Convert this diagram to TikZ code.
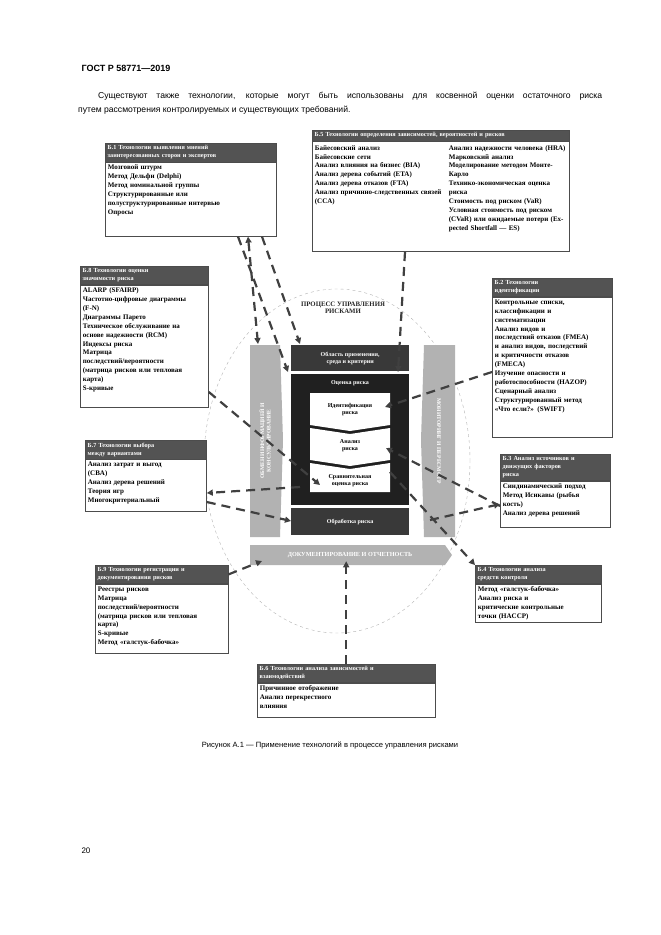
\documentclass[tikz,border=0pt]{standalone}
\usepackage{fontspec}
\setmainfont{Liberation Sans}
\newfontfamily\bxfont{Liberation Serif}
\usetikzlibrary{positioning,arrows.meta}
\begin{document}
\begin{tikzpicture}[x=1pt,y=-1pt]
	\tikzset{hd/.style={draw=gray!60!black, fill=gray!65!black, text=white, inner sep=2.5pt, anchor=north west, align=left, font=\bxfont\bfseries\fontsize{6.2}{8}\selectfont},
		bd/.style={draw=gray!60!black, line width=0.8pt, fill=white, inner sep=2.5pt, align=left, anchor=north west, font=\bxfont\bfseries\fontsize{7}{8.9}\selectfont},
		blk/.style={fill=gray!25!black, draw=none, text=white, font=\bxfont\bfseries\fontsize{6}{7}\selectfont, align=center},
		ln/.style={gray!50!black, line width=2.2pt, dash pattern=on 9pt off 6pt, -{Triangle[length=6pt,width=6pt]}}};
	\useasboundingbox (0,0) rectangle (661,935);

	% page text
	\node[anchor=west, font=\bfseries\fontsize{9}{10}\selectfont] (gost) at (78,68) {ГОСТ Р 58771—2019};
	\node[anchor=north west, text width=524pt, align=justify, inner sep=0pt, font=\fontsize{8.6}{14}\selectfont] (intro) at (78,92)
		{\hspace*{20pt}Существуют также технологии, которые могут быть использованы для косвенной оценки остаточного риска\linebreak путем рассмотрения контролируемых и существующих требований.};
	\node[font=\fontsize{7.6}{9}\selectfont] (cap) at (330,745) {Рисунок А.1 — Применение технологий в процессе управления рисками};
	\node[anchor=west, font=\fontsize{8}{9}\selectfont] (page) at (78,851) {20};

	% process
	\draw[gray!60, dash pattern=on 3pt off 3pt] (337,461) ellipse (133pt and 172pt);
	\node[font=\bxfont\bfseries\fontsize{6.8}{7.5}\selectfont, align=center, gray!30!black] (ttl) at (343,308) {ПРОЦЕСС УПРАВЛЕНИЯ\\РИСКАМИ};
	\fill[gray!60] (250,345) -- (280,345) -- (283,440) -- (280,537) -- (250,537) -- cycle;
	\fill[gray!60] (424,345) -- (455,345) -- (455,537) -- (424,537) -- (421,440) -- cycle;
	\node[rotate=90, white, font=\bxfont\bfseries\fontsize{5.6}{6.5}\selectfont, align=center] (com) at (265,441) {ОБМЕН ИНФОРМАЦИЕЙ И\\КОНСУЛЬТИРОВАНИЕ};
	\node[rotate=-90, white, font=\bxfont\bfseries\fontsize{5.6}{6.5}\selectfont] (mon) at (439,441) {МОНИТОРИНГ И ПЕРЕСМОТР};
	\node[blk, fill=gray!45!black, minimum width=118pt, minimum height=26pt, anchor=north west] (scope) at (291,345) {Область применения,\\среда и критерии};
	\node[blk, minimum width=118pt, minimum height=131pt, anchor=north west] (assess) at (291,374) {};
	\node[blk] (asst) at (350,383) {Оценка риска};
	\fill[white] (310,393) -- (390,393) -- (390,425) -- (350,431) -- (310,425) -- cycle;
	\fill[white] (310,428) -- (350,434) -- (390,428) -- (390,460) -- (350,466) -- (310,460) -- cycle;
	\fill[white] (310,463) -- (350,469) -- (390,463) -- (390,492) -- (310,492) -- cycle;
	\node[font=\bxfont\bfseries\fontsize{6}{7}\selectfont, align=center] (ident) at (350,410) {Идентификация\\риска};
	\node[font=\bxfont\bfseries\fontsize{6}{7}\selectfont, align=center] (anal) at (350,446) {Анализ\\риска};
	\node[font=\bxfont\bfseries\fontsize{6}{7}\selectfont, align=center] (eval) at (350,481) {Сравнительная\\оценка риска};
	\node[blk, fill=gray!45!black, minimum width=118pt, minimum height=27pt, anchor=north west] (treat) at (291,508) {Обработка риска};
	\fill[gray!60] (250,545) -- (445,545) -- (452,555) -- (445,565) -- (250,565) -- cycle;
	\node[white, font=\bxfont\bfseries\fontsize{6.2}{7}\selectfont] (doc) at (350,555) {ДОКУМЕНТИРОВАНИЕ И ОТЧЕТНОСТЬ};

	% technique boxes
	\node[hd, text width=166pt] (b1h) at (105,143) {Б.1 Технологии выявления мнений\\заинтересованных сторон и экспертов};
	\node[bd, text width=166pt, text depth=64pt, below right=0pt and 0pt of b1h.south west] (b1) {Мозговой штурм\\Метод Дельфи (Delphi)\\Метод номинальной группы\\Структурированные или\\полуструктурированные интервью\\Опросы};

	\node[hd, text width=252pt] (b5h) at (312,130) {Б.5 Технологии определения зависимостей, вероятностей и рисков};
	\node[bd, text width=252pt, text depth=99pt, below right=0pt and 0pt of b5h.south west] (b5) {%
		\begin{tabular}[t]{@{}p{128pt}@{\hspace{6pt}}p{118pt}@{}}
		Байесовский анализ\newline Байесовские сети\newline Анализ влияния на бизнес (BIA)\newline Анализ дерева событий (ETA)\newline Анализ дерева отказов (FTA)\newline Анализ причинно-следственных связей (CCA) &
		Анализ надежности человека (HRA)\newline Марковский анализ\newline Моделирование методом Монте-Карло\newline Технико-экономическая оценка риска\newline Стоимость под риском (VaR)\newline Условная стоимость под риском (CVaR) или ожидаемые потери (Expected Shortfall — ES)
		\end{tabular}};

	\node[hd, text width=123pt] (b8h) at (80,266) {Б.8 Технологии оценки\\значимости риска};
	\node[bd, text width=123pt, text depth=112pt, below right=0pt and 0pt of b8h.south west] (b8) {ALARP (SFAIRP)\\Частотно-цифровые диаграммы\\(F-N)\\Диаграммы Парето\\Техническое обслуживание на\\основе надежности (RCM)\\Индексы риска\\Матрица\\последствий/вероятности\\(матрица рисков или тепловая\\карта)\\S-кривые};

	\node[hd, text width=115pt] (b2h) at (492,278) {Б.2 Технологии\\идентификации};
	\node[bd, text width=115pt, text depth=131pt, below right=0pt and 0pt of b2h.south west] (b2) {Контрольные списки,\\классификации и\\систематизации\\Анализ видов и\\последствий отказов (FMEA)\\и анализ видов, последствий\\и критичности отказов\\(FMECA)\\Изучение опасности и\\работоспособности (HAZOP)\\Сценарный анализ\\Структурированный метод\\«Что если?» (SWIFT)};

	\node[hd, text width=116pt] (b7h) at (85,440) {Б.7 Технологии выбора\\между вариантами};
	\node[bd, text width=116pt, text depth=42pt, below right=0pt and 0pt of b7h.south west] (b7) {Анализ затрат и выгод\\(CBA)\\Анализ дерева решений\\Теория игр\\Многокритериальный};

	\node[hd, text width=105pt] (b3h) at (500,454) {Б.3 Анализ источников и\\движущих факторов\\риска};
	\node[bd, text width=105pt, text depth=36pt, below right=0pt and 0pt of b3h.south west] (b3) {Синдинамический подход\\Метод Исикавы (рыбья\\кость)\\Анализ дерева решений};

	\node[hd, text width=128pt] (b9h) at (95,565) {Б.9 Технологии регистрации и\\документирования рисков};
	\node[bd, text width=128pt, text depth=60pt, below right=0pt and 0pt of b9h.south west] (b9) {Реестры рисков\\Матрица\\последствий/вероятности\\(матрица рисков или тепловая\\карта)\\S-кривые\\Метод «галстук-бабочка»};

	\node[hd, text width=121pt] (b4h) at (475,565) {Б.4 Технологии анализа\\средств контроля};
	\node[bd, text width=121pt, text depth=28pt, below right=0pt and 0pt of b4h.south west] (b4) {Метод «галстук-бабочка»\\Анализ риска и\\критические контрольные\\точки (HACCP)};

	\node[hd, text width=173pt] (b6h) at (257,664) {Б.6 Технологии анализа зависимостей и\\взаимодействий};
	\node[bd, text width=173pt, text depth=24pt, below right=0pt and 0pt of b6h.south west] (b6) {Причинное отображение\\Анализ перекрестного\\влияния};

	% connectors
	\draw[ln, {Triangle[length=6pt,width=6pt]}-{Triangle[length=6pt,width=6pt]}] (b1.south -| 248,0) -- (258,344);
	\draw[ln] (b1.south -| 262,0) -- (300,344);
	\draw[ln] (b1.south -| 238,0) -- (288,372);
	\draw[ln] (b5.south -| 405,0) -- (398,372);
	\draw[ln] (b8.east |- 0,392) -- (320,485);
	\draw[ln] (b2.west |- 0,372) -- (385,407);
	\draw[ln] (b3.west |- 0,506) -- (386,448);
	\draw[ln] (300,487) -- (b7.east |- 0,493);
	\draw[ln] (b7.east |- 0,502) -- (291,521);
	\draw[ln] (b9h.east) -- (262,561);
	\draw[ln] (b6h.north) -- (b6h.north |- doc.south);
	\draw[ln] (390,472) -- (b4h.north west);
	\draw[ln] (430,520) -- (b3.west);
\end{tikzpicture}
\end{document}
